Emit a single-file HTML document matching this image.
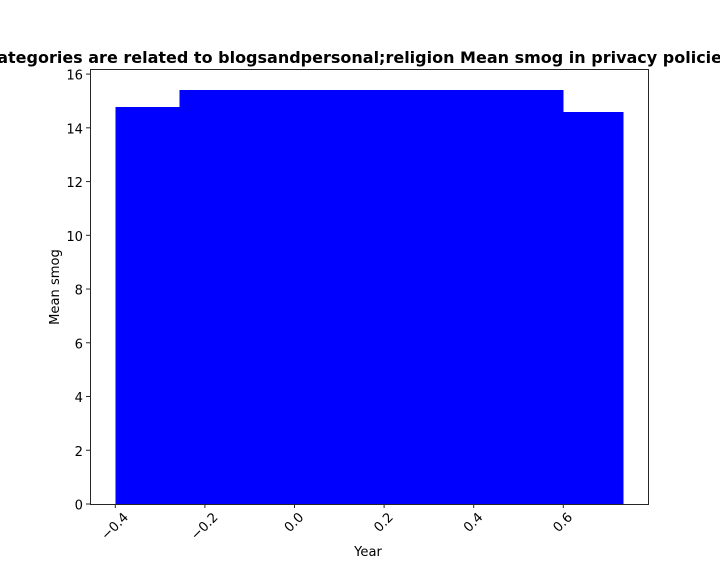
<!DOCTYPE html>
<html>
<head>
<meta charset="utf-8">
<style>
html,body{margin:0;padding:0;background:#fff;}
svg{display:block;}
text{font-family:"DejaVu Sans","Liberation Sans",sans-serif;fill:#000;}
</style>
</head>
<body>
<svg id="chart" width="720" height="576" viewBox="0 0 720 576" xmlns="http://www.w3.org/2000/svg"></svg>
<script>
const barCenters = [0, 0.143, 0.2, 0.334];
const barHeights = [14.77, 15.41, 15.41, 14.59];
const barWidth = 0.8;
const xTicks = [-0.4, -0.2, 0.0, 0.2, 0.4, 0.6];
const xTickLabels = ['\u22120.4', '\u22120.2', '0.0', '0.2', '0.4', '0.6'];
const yTicks = [0, 2, 4, 6, 8, 10, 12, 14, 16];
const yTickLabels = ['0', '2', '4', '6', '8', '10', '12', '14', '16'];

const NS = 'http://www.w3.org/2000/svg';
const svg = document.getElementById('chart');
const plot = {left: 90, right: 648, top: 69, bottom: 504};
const xPerUnit = 448;
const yPerUnit = 26.87;
const firstLeft = Math.min.apply(null, barCenters) - barWidth / 2;
function xScale(v) { return 115.3 + (v - firstLeft) * xPerUnit; }
function yScale(v) { return plot.bottom - v * yPerUnit; }
function make(tag, attrs, text) {
  const el = document.createElementNS(NS, tag);
  for (const k in attrs) el.setAttribute(k, attrs[k]);
  if (text !== undefined) el.textContent = text;
  svg.appendChild(el);
  return el;
}

barCenters.forEach(function (c, i) {
  const x0 = xScale(c - barWidth / 2);
  const x1 = xScale(c + barWidth / 2);
  const y0 = yScale(barHeights[i]);
  const bar = make('rect', {x: x0, y: y0, width: x1 - x0, height: plot.bottom - y0, fill: '#0000ff', 'shape-rendering': 'crispEdges'});
  
  
});

const frame = make('rect', {x: plot.left + 0.5, y: plot.top + 0.5, width: plot.right - plot.left, height: plot.bottom - plot.top, fill: 'none', stroke: '#262626', 'stroke-width': 1});



xTicks.forEach(function (t, i) {
  const x = xScale(t);
  const tick = make('line', {x1: x, x2: x, y1: plot.bottom, y2: plot.bottom + 4, stroke: '#262626', 'stroke-width': 1});
  
  
  const label = make('text', {x: 0, y: 0, 'font-size': 13.1, 'text-anchor': 'middle', 'dominant-baseline': 'central'}, xTickLabels[i]);
  const len = label.getComputedTextLength();
  const labelY = plot.bottom + 8 + (len + 10) * 0.707 / 2;
  label.setAttribute('transform', 'translate(' + x + ' ' + labelY + ') rotate(-45)');
  
  
});

yTicks.forEach(function (t, i) {
  const y = yScale(t);
  const tick = make('line', {x1: plot.left - 4, x2: plot.left, y1: y, y2: y, stroke: '#262626', 'stroke-width': 1});
  
  
  const label = make('text', {x: plot.left - 7, y: y + 5.5, 'font-size': 13.1, 'text-anchor': 'end'}, yTickLabels[i]);
  
  
});

const title = make('text', {x: 358.5, y: 63, 'font-size': 16, 'font-weight': 'bold', 'text-anchor': 'middle'}, 'Categories are related to blogsandpersonal;religion Mean smog in privacy policies');



const xTitle = make('text', {x: 368, y: 556, 'font-size': 13.1, 'text-anchor': 'middle'}, 'Year');



const yTitle = make('text', {x: 0, y: 0, 'font-size': 13.1, 'text-anchor': 'middle', transform: 'translate(59 287) rotate(-90)'}, 'Mean smog');


</script>
</body>
</html>
